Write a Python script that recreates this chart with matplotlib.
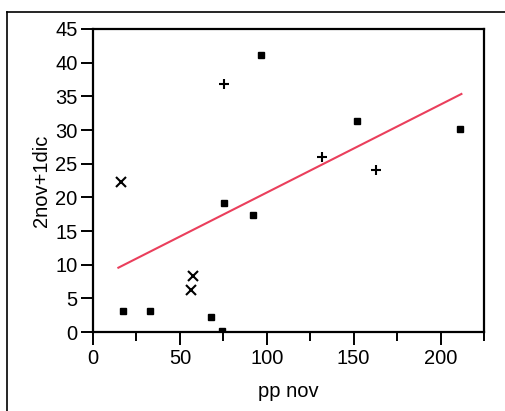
import matplotlib
matplotlib.use("Agg")
import matplotlib.pyplot as plt
from matplotlib.lines import Line2D

plt.rcParams['font.family'] = ['Liberation Sans', 'DejaVu Sans']

# squares
sq_x = [17.1, 32.8, 67.7, 74.4, 75.6, 92.3, 96.9, 151.9, 211.4]
sq_y = [3.1, 3.1, 2.3, 0.2, 19.1, 17.4, 41.1, 31.3, 30.1]
# plus
pl_x = [75.6, 131.6, 163.0]
pl_y = [36.8, 26.0, 24.0]
# crosses
cr_x = [15.9, 57.5, 56.4]
cr_y = [22.3, 8.3, 6.2]
# fit line
fit_x = [14.6, 212.0]
fit_y = [9.55, 35.35]

fig = plt.figure(figsize=(5.05, 4.11), dpi=100)
ax = fig.add_axes([93/505, 1 - 332/411, (484-93)/505, (332-29)/411])

ax.plot(fit_x, fit_y, color='#ea3f5c', lw=1.5, zorder=2)
ax.plot(sq_x, sq_y, 's', color='black', ms=4.3, zorder=3)
ax.plot(pl_x, pl_y, '+', color='black', ms=7, mew=1.5, zorder=3)
ax.plot(cr_x, cr_y, 'x', color='black', ms=7, mew=1.5, zorder=3)

ax.set_xlim(0, 225)
ax.set_ylim(0, 45)
ax.set_xticks([0, 50, 100, 150, 200])
ax.set_xticks([25, 75, 125, 175, 225], minor=True)
ax.set_yticks(range(0, 46, 5))
for s in ax.spines.values():
    s.set_linewidth(1.6)
ax.tick_params(axis='both', which='major', direction='out', length=9, width=1.4, labelsize=14.5)
ax.tick_params(axis='x', which='minor', direction='out', length=6.5, width=1.4)
ax.tick_params(axis='x', which='major', pad=3)
ax.tick_params(axis='y', which='major', pad=2)

ax.set_xlabel('pp nov', fontsize=14.5, labelpad=10)
ax.set_ylabel('2nov+1dic', fontsize=14.5, labelpad=3)

# outer frame (left and top edges visible)
fig.add_artist(Line2D([7/505, 1], [1 - 12/411, 1 - 12/411], color='black', lw=1.2))
fig.add_artist(Line2D([7/505, 7/505], [0, 1 - 12/411], color='black', lw=1.2))

fig.savefig('out.png', dpi=100)
